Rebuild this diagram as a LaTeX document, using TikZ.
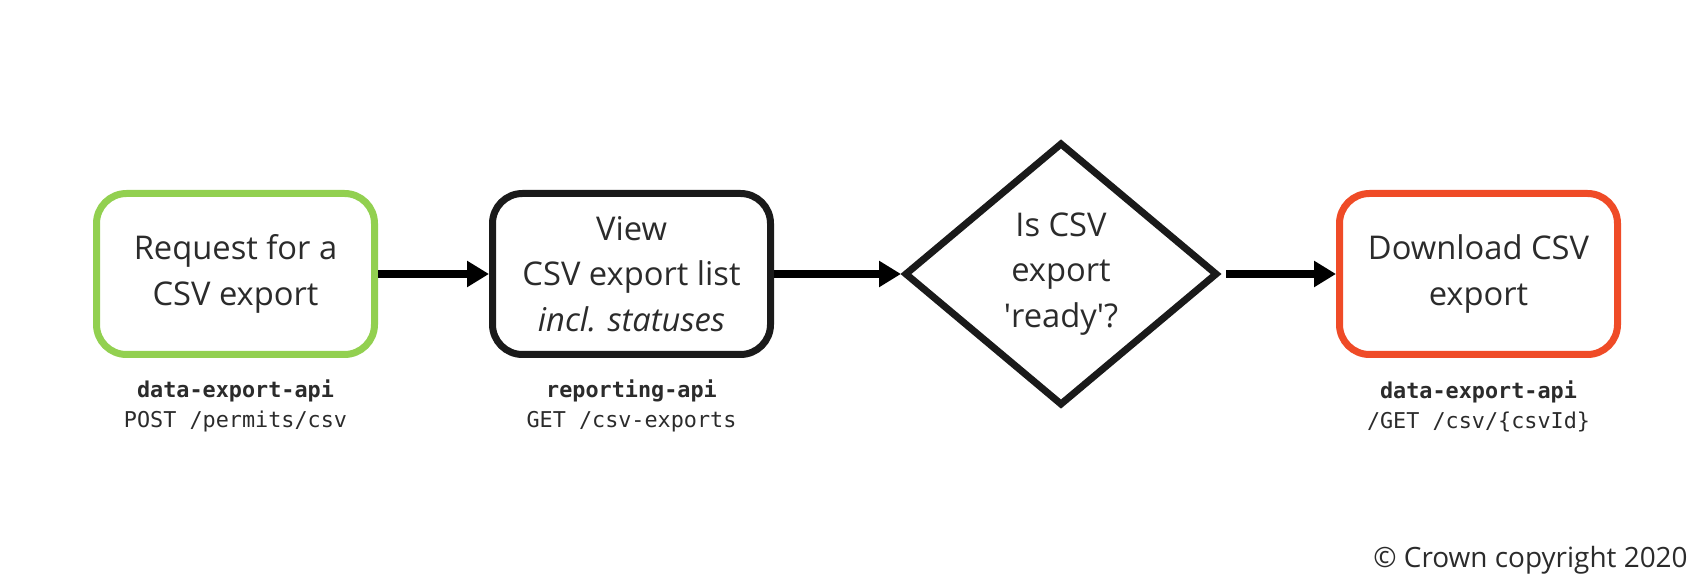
\documentclass[tikz,border=0pt]{standalone}
\usepackage{fontspec}
\setmainfont{Open Sans}
\setmonofont{DejaVu Sans Mono}
\usetikzlibrary{arrows.meta,shapes.geometric}

\definecolor{okgreen}{HTML}{92D050}
\definecolor{stopred}{HTML}{EF4B27}
\definecolor{inkgrey}{HTML}{1A1A1A}
\definecolor{textgrey}{HTML}{2B2B2B}

\begin{document}
\begin{tikzpicture}[
        process/.style={draw=inkgrey, line width=0.14cm, rounded corners=0.6cm,
            minimum width=5.56cm, minimum height=3.22cm, align=center,
            text=textgrey, font=\fontsize{18.6}{25.8}\selectfont},
        decision/.style={diamond, draw=inkgrey, line width=0.14cm, inner sep=0pt,
            minimum width=6.26cm, minimum height=5.26cm, align=center,
            text=textgrey, font=\fontsize{18.6}{25.8}\selectfont},
        api/.style={align=center, text=textgrey,
            font=\ttfamily\fontsize{12.4}{17.1}\selectfont},
        flow/.style={line width=0.15cm, -{Triangle[length=0.44cm,width=0.5cm]}}
    ]
        \useasboundingbox (0,0) rectangle (34.08,11.72);

        % Steps
        \node[process, draw=okgreen] (request) at (4.71,6.24) {Request for a\\CSV export};
        \node[process] (view) at (12.63,6.24) {View\\CSV export list\\\textit{incl. statuses}};
        \node[decision] (ready) at (21.22,6.24) {Is CSV\\export\\\textquotesingle ready\textquotesingle?};
        \node[process, draw=stopred] (download) at (29.57,6.24) {Download CSV\\export};

        % Endpoints
        \node[api] (requestapi) at (4.71,3.6) {\textbf{data-export-api}\\POST /permits/csv};
        \node[api] (viewapi) at (12.63,3.6) {\textbf{reporting-api}\\GET /csv-exports};
        \node[api] (downloadapi) at (29.57,3.6) {\textbf{data-export-api}\\/GET /csv/\{csvId\}};

        % Flow
        \draw[flow] (request) -- (view);
        \draw[flow] (view) -- (ready);
        \draw[flow, shorten <=0.1cm] (ready) -- (download);

        \node[anchor=base east, inner sep=0pt, text=textgrey, font=\fontsize{15.9}{19}\selectfont]
            (copyright) at (33.76,0.36) {© Crown copyright 2020};
    \end{tikzpicture}
\end{document}
